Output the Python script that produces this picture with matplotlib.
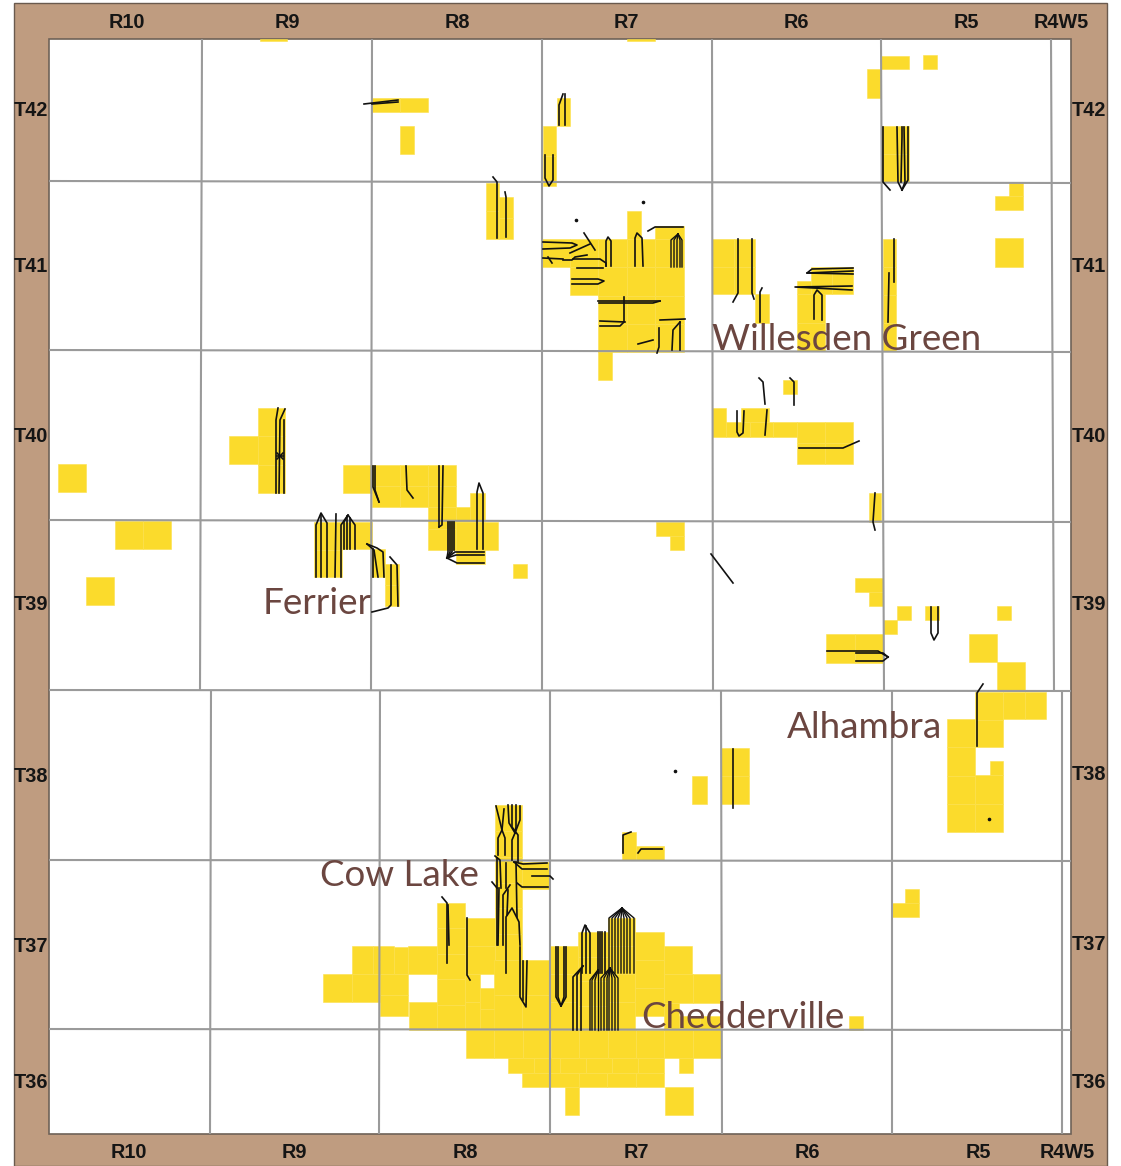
import matplotlib
matplotlib.use("Agg")
import matplotlib.pyplot as plt
from matplotlib.patches import Rectangle

W, H = 1121, 1166
TAN = "#BF9C80"
YEL = "#FBDB2C"
SEAM = "#FCE04A"
GRID = "#9A9A9A"
NAME = "#6B4640"

top_ranges = ["R10", "R9", "R8", "R7", "R6", "R5", "R4W5"]
top_range_x = [127, 287, 457, 626, 796, 966, 1061]
bottom_range_x = [129, 294, 465, 636, 807, 978, 1067]
townships = ["T42", "T41", "T40", "T39", "T38", "T37", "T36"]
left_t_y = [110, 266, 435, 604, 775, 945, 1082]
right_t_y = [110, 265, 435, 604, 774, 944, 1081]

grid_lines = [
    [(202, 39), (200, 690)], [(372, 39), (371, 690)], [(542, 39), (542, 690)],
    [(712, 39), (713, 690)], [(881, 39), (884, 690)], [(1051, 39), (1054, 690)],
    [(211, 690), (210, 1134)], [(380, 690), (379, 1134)], [(550, 690), (550, 1134)],
    [(721, 690), (722, 1134)], [(892, 690), (892, 1134)], [(1062, 690), (1062, 1134)],
    [(49, 181), (1071, 183)], [(49, 350), (1071, 352)], [(49, 520), (1071, 522)],
    [(49, 690), (1071, 691)], [(49, 860), (1071, 861)], [(49, 1029), (1071, 1030)],
]

lease_blocks = [
    (260, 39, 287, 41), (627, 39, 655, 41), (372, 98, 428, 112), (400, 126, 414, 154),
    (557, 98, 570, 126), (543, 126, 556, 186), (881, 56, 909, 69), (923, 55, 937, 69),
    (867, 69, 881, 98), (882, 126, 909, 182), (1009, 182, 1023, 196), (995, 196, 1023, 210),
    (995, 238, 1023, 267), (486, 183, 499, 239), (499, 197, 513, 239),
    (542, 239, 570, 267), (570, 239, 598, 295), (598, 239, 684, 352), (655, 226, 684, 239),
    (627, 211, 641, 239), (598, 352, 612, 380),
    (712, 239, 755, 294), (755, 294, 769, 323), (811, 267, 853, 294), (797, 281, 811, 294),
    (797, 294, 825, 351), (883, 239, 896, 351),
    (712, 408, 726, 437), (726, 422, 797, 437), (741, 408, 769, 422), (797, 422, 853, 464),
    (783, 380, 797, 394),
    (258, 408, 285, 493), (229, 436, 258, 464), (343, 465, 372, 493), (372, 465, 456, 507),
    (428, 507, 456, 550), (456, 507, 470, 522), (470, 493, 485, 522), (456, 522, 498, 550),
    (456, 550, 485, 564), (314, 522, 342, 577), (342, 522, 372, 549), (372, 549, 385, 577),
    (385, 564, 399, 606), (513, 564, 527, 578),
    (58, 464, 86, 492), (115, 521, 171, 549), (86, 577, 114, 605),
    (656, 522, 684, 536), (670, 536, 684, 550), (869, 493, 881, 522),
    (855, 578, 883, 592), (869, 592, 883, 606), (897, 606, 911, 620), (883, 620, 897, 634),
    (925, 606, 939, 620), (997, 606, 1011, 620), (826, 634, 883, 663), (969, 634, 997, 662),
    (997, 662, 1025, 690), (1003, 692, 1046, 719), (975, 692, 1003, 747), (947, 719, 975, 832),
    (975, 775, 1003, 832), (990, 761, 1003, 775),
    (721, 748, 749, 804), (692, 776, 707, 804), (622, 832, 636, 860), (636, 846, 664, 860),
    (892, 903, 919, 917), (905, 889, 919, 903),
    (495, 805, 522, 960), (522, 862, 550, 889),
    (323, 974, 380, 1002), (352, 946, 394, 974), (394, 947, 408, 974), (408, 946, 437, 974),
    (380, 974, 408, 1016), (409, 1002, 437, 1030), (437, 903, 465, 1030),
    (465, 918, 495, 974), (465, 974, 480, 1030), (480, 988, 495, 1030), (494, 960, 522, 1030),
    (522, 960, 550, 1030), (550, 946, 578, 1030), (578, 932, 608, 1030), (608, 918, 635, 1030),
    (635, 932, 664, 1016), (664, 946, 692, 974), (664, 974, 721, 1003), (664, 1003, 679, 1030),
    (679, 1016, 721, 1030), (849, 1016, 863, 1030),
    (466, 1030, 721, 1058), (508, 1058, 664, 1073), (522, 1073, 664, 1087), (679, 1058, 693, 1073),
    (565, 1087, 579, 1115), (665, 1087, 693, 1115),
]

well_paths = [
    [(493, 177), (497, 182), (497, 238)], [(505, 192), (506, 197), (506, 237)],
    [(543, 242), (572, 243), (577, 245), (570, 248), (543, 249)], [(543, 258), (563, 259)],
    [(548, 257), (552, 263)], [(563, 260), (572, 260), (575, 257), (587, 255)],
    [(573, 259), (600, 259), (606, 263), (606, 266)], [(577, 268), (603, 268)],
    [(570, 253), (590, 244)], [(584, 233), (595, 250)],
    [(606, 266), (606, 241), (608, 237), (611, 241), (611, 266)],
    [(572, 279), (598, 279), (604, 281), (598, 284), (572, 284)],
    [(598, 301), (660, 301)], [(599, 303), (653, 303), (660, 301)],
    [(624, 297), (624, 322), (620, 326), (600, 326)], [(600, 321), (625, 322)],
    [(635, 266), (635, 238), (637, 233), (642, 238), (643, 266)],
    [(648, 231), (655, 227), (683, 227)], [(660, 320), (685, 319)],
    [(680, 322), (673, 330), (672, 350)], [(680, 322), (680, 350)],
    [(638, 344), (653, 340)], [(659, 328), (659, 347), (657, 353)],
    [(278, 408), (276, 420), (276, 493)], [(285, 409), (280, 420), (279, 493)], [(284, 420), (284, 493)],
    [(277, 453), (283, 459)], [(283, 453), (277, 459)], [(277, 456), (283, 456)],
    [(373, 466), (373, 487), (379, 502)], [(375, 466), (375, 490), (379, 502)],
    [(406, 466), (407, 490), (413, 498)],
    [(439, 466), (439, 527)], [(443, 466), (442, 525), (439, 527)],
    [(448, 522), (448, 552), (447, 558)], [(450, 522), (450, 552), (447, 558)],
    [(452, 522), (452, 552), (447, 558)], [(454, 522), (454, 550)],
    [(447, 558), (455, 552), (484, 552)], [(447, 558), (456, 555), (484, 555)],
    [(447, 558), (457, 563), (484, 563)],
    [(477, 549), (477, 492), (479, 483), (483, 493), (483, 549)],
    [(316, 577), (316, 525), (321, 513), (327, 523), (327, 577)], [(321, 577), (321, 515)],
    [(335, 577), (336, 514)], [(341, 577), (341, 525), (348, 515), (355, 525), (355, 549)],
    [(344, 549), (344, 522), (348, 515)], [(347, 549), (347, 516)], [(350, 549), (350, 518)],
    [(367, 544), (377, 548), (383, 552), (384, 577)], [(367, 544), (374, 550), (378, 577)],
    [(373, 577), (373, 549)], [(390, 557), (397, 565), (398, 606)],
    [(391, 565), (391, 605), (388, 608), (372, 612)],
    [(738, 239), (738, 293), (733, 302)], [(752, 239), (752, 293), (754, 299)],
    [(762, 288), (760, 292), (760, 322)],
    [(853, 268), (812, 269), (807, 273), (853, 274)], [(853, 271), (807, 273)],
    [(852, 286), (795, 287), (852, 290)],
    [(814, 319), (814, 295), (817, 290), (822, 295), (822, 320)],
    [(894, 239), (894, 282)], [(889, 273), (888, 322)],
    [(759, 378), (763, 382), (765, 404)], [(790, 378), (794, 382), (794, 405)],
    [(737, 411), (737, 432), (739, 436), (743, 433), (744, 411)], [(767, 410), (765, 435)],
    [(799, 448), (843, 448), (859, 441)],
    [(364, 104), (398, 100)], [(372, 104), (398, 102)],
    [(563, 94), (559, 105), (559, 125)], [(565, 94), (565, 125)],
    [(545, 155), (545, 178), (549, 186), (553, 180), (553, 155)],
    [(883, 127), (883, 182), (890, 190)], [(897, 127), (898, 182), (902, 190)],
    [(902, 127), (902, 137), (901, 182)], [(904, 127), (905, 182), (902, 190)],
    [(908, 127), (908, 180), (902, 190)],
    [(875, 493), (873, 522), (875, 530)], [(711, 554), (733, 583)],
    [(827, 651), (878, 651), (888, 657)], [(856, 653), (883, 653), (888, 657)],
    [(856, 661), (883, 661), (888, 657)],
    [(931, 607), (931, 633), (934, 640), (938, 633), (938, 607)],
    [(983, 684), (977, 693), (977, 746)], [(733, 749), (733, 808)],
    [(623, 853), (623, 835), (631, 832)], [(638, 853), (641, 849), (662, 849)],
    [(496, 806), (502, 830), (498, 838), (498, 855)], [(504, 809), (502, 830), (505, 838), (505, 855)],
    [(508, 805), (509, 823), (515, 833), (512, 840), (512, 860)],
    [(512, 805), (512, 827), (518, 835), (518, 862)], [(516, 805), (516, 827), (515, 833)],
    [(520, 806), (520, 820), (515, 833)],
    [(514, 862), (523, 864), (547, 863)], [(514, 862), (522, 869), (547, 869)],
    [(532, 876), (550, 876), (553, 879)], [(517, 883), (522, 887), (548, 887)],
    [(495, 856), (500, 860), (501, 888)], [(497, 858), (497, 888)], [(506, 863), (506, 888)],
    [(492, 882), (497, 888), (497, 945)], [(499, 888), (498, 945)],
    [(503, 945), (503, 895), (510, 885)],
    [(506, 973), (506, 917), (512, 908), (519, 922), (520, 945)],
    [(516, 862), (517, 917)], [(508, 890), (507, 915)],
    [(520, 947), (520, 997), (526, 1007), (527, 961)], [(523, 961), (523, 1000)],
    [(442, 897), (447, 903), (447, 963)], [(448, 905), (449, 945)],
    [(467, 918), (467, 975), (470, 980)],
    [(556, 947), (556, 997), (561, 1006), (566, 997), (566, 947)], [(558, 947), (558, 997), (561, 1006)],
    [(564, 947), (564, 997), (561, 1006)],
    [(573, 1030), (573, 977), (583, 966)], [(577, 1030), (577, 975), (583, 966)], [(581, 1030), (581, 970)],
    [(582, 973), (582, 933), (585, 925), (590, 933), (590, 973)], [(586, 973), (586, 926)],
    [(598, 973), (598, 932)], [(600, 973), (600, 932)], [(602, 973), (602, 932)], [(605, 973), (605, 932)],
]

# converging clusters: x of each bore, landing depth, kick-off depth, pad x, pad y
fan_tops = [
    ([671, 674, 677, 680, 682], 267, 240, 678, 234),
    ([609, 612, 615, 618, 621, 624, 627, 630, 634], 973, 918, 622, 908),
    ([590, 592, 595, 598], 1030, 980, 598, 970),
    ([601, 604, 607, 609, 612, 615, 618], 1030, 978, 610, 968),
]
well_dots = [(576, 220), (643, 202), (675, 771), (989, 819)]

place_names = ["Willesden Green", "Ferrier", "Alhambra", "Cow Lake", "Chedderville"]
place_x = [712, 263, 787, 320, 641]
place_y = [340, 604, 728, 875, 1017]

fig = plt.figure(figsize=(W / 100, H / 100), dpi=100, facecolor="white")
ax = fig.add_axes([0, 0, 1, 1])
ax.set_xlim(0, W)
ax.set_ylim(H, 0)
ax.axis("off")

ax.add_patch(Rectangle((13.5, 2.5), 1093, 1163, fc=TAN, ec="#6A5A4E", lw=1, zorder=1))
ax.add_patch(Rectangle((49, 39), 1022, 1095, fc="white", ec="#6E6258", lw=1.2, zorder=2))

for x0, y0, x1, y1 in lease_blocks:
    cols = max(1, round((x1 - x0) / 28))
    rows = max(1, round((y1 - y0) / 28))
    dx, dy = (x1 - x0) / cols, (y1 - y0) / rows
    for i in range(cols):
        for j in range(rows):
            ax.add_patch(Rectangle((x0 + i * dx, y0 + j * dy), dx, dy, fc=YEL, ec=SEAM, lw=0.4, zorder=3))

for line in grid_lines:
    ax.plot(*zip(*line), color=GRID, lw=1.5, zorder=4, solid_capstyle="butt")

for path in well_paths:
    ax.plot(*zip(*path), color="#111111", lw=1.2, zorder=5, solid_joinstyle="round")
for xs, y_land, y_kick, px, py in fan_tops:
    for x in xs:
        ax.plot([x, x, px], [y_land, y_kick, py], color="#111111", lw=1.0, zorder=5)
ax.plot(*zip(*well_dots), ls="none", marker="o", ms=1.6, color="#111111", zorder=5)

label_kw = dict(family="Liberation Sans", weight="bold", fontsize=14.3, color="#151515",
                ha="center", va="center", zorder=6)
for s, x in zip(top_ranges, top_range_x):
    ax.text(x, 22, s, **label_kw)
for s, x in zip(top_ranges, bottom_range_x):
    ax.text(x, 1153, s, **label_kw)
for s, y in zip(townships, left_t_y):
    ax.text(31, y + 1, s, **label_kw)
for s, y in zip(townships, right_t_y):
    ax.text(1089, y + 1, s, **label_kw)

for s, x, y in zip(place_names, place_x, place_y):
    ax.text(x, y, s, family="Lato", fontsize=26.5, color=NAME, ha="left", va="center", zorder=7)

fig.savefig("out.png", dpi=100)
